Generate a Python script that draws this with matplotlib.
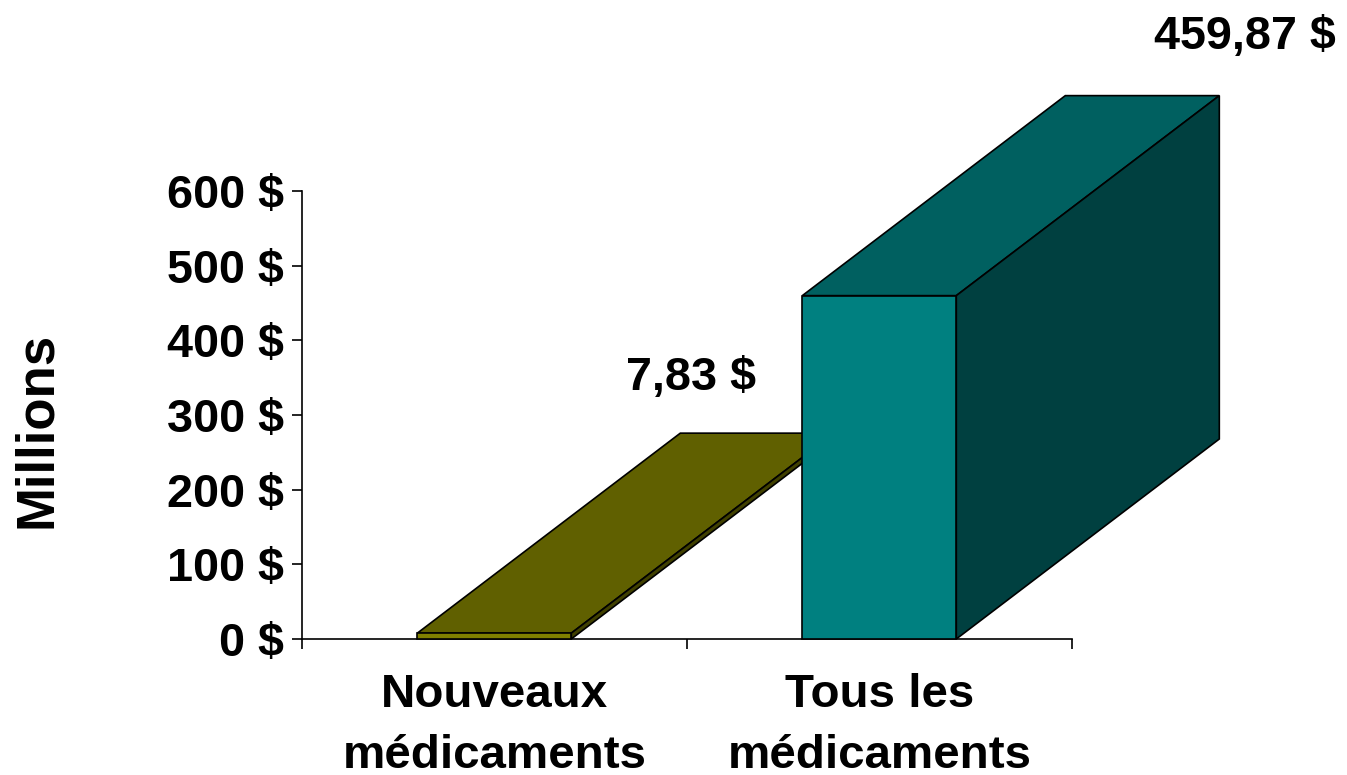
import matplotlib
matplotlib.use("Agg")
import matplotlib.pyplot as plt
from matplotlib.patches import Polygon

plt.rcParams['font.family'] = ['Liberation Sans', 'DejaVu Sans']
plt.rcParams['font.weight'] = 'bold'

# donnees
categories = ["Nouveaux\nmédicaments", "Tous les\nmédicaments"]
values = [7.83, 459.87]
value_labels = ["7,83 $", "459,87 $"]
yticks = [0, 100, 200, 300, 400, 500, 600]
ytick_labels = ["0 $", "100 $", "200 $", "300 $", "400 $", "500 $", "600 $"]

front_colors = ["#808000", "#008080"]
top_colors = ["#606000", "#006060"]
side_colors = ["#404000", "#004040"]

W, H = 1347, 775
FS = 33.7
fig = plt.figure(figsize=(W / 100, H / 100), dpi=100)
ax = fig.add_axes([302 / W, (H - 639) / H, (1072 - 302) / W, (639 - 191) / H])
ax.set_xlim(0, 2)
ax.set_ylim(0, 600)

# profondeur de l'effet 3D, en unites des axes
dx = 263 / 385
dy = 200 / 448 * 600
bar_w = 0.4


def bar3d(x0, val, c_front, c_top, c_side):
    x1 = x0 + bar_w
    faces = [
        ([(x0, val), (x1, val), (x1 + dx, val + dy), (x0 + dx, val + dy)], c_top),
        ([(x1, 0), (x1 + dx, dy), (x1 + dx, val + dy), (x1, val)], c_side),
        ([(x0, 0), (x1, 0), (x1, val), (x0, val)], c_front),
    ]
    for pts, c in faces:
        ax.add_patch(Polygon(pts, closed=True, facecolor=c, edgecolor='black',
                             linewidth=1.2, clip_on=False, zorder=3))


for i in range(len(values)):
    bar3d(i + 0.2995, values[i], front_colors[i], top_colors[i], side_colors[i])

for s in ['top', 'right']:
    ax.spines[s].set_visible(False)
for s in ['left', 'bottom']:
    ax.spines[s].set_linewidth(1.2)

ax.set_yticks(yticks)
ax.set_yticklabels(ytick_labels, fontsize=FS)
ax.tick_params(axis='y', length=7, width=1.2, pad=6)
ax.set_xticks([0, 1, 2])
ax.set_xticklabels([])
ax.tick_params(axis='x', length=7, width=1.2)

# etiquettes de categories
for i, c in enumerate(categories):
    ax.text(i + 0.5, -46, c, ha='center', va='top', fontsize=34.2, linespacing=1.5)

fig.text(691 / W, 1 - 378 / H, value_labels[0], ha='center', va='center', fontsize=FS)
fig.text(1245 / W, 1 - 37 / H, value_labels[1], ha='center', va='center', fontsize=FS)
fig.text(37 / W, 1 - 430 / H, "Millions", rotation=90, ha='center', va='center', fontsize=38)

fig.savefig("out.png", dpi=100)
